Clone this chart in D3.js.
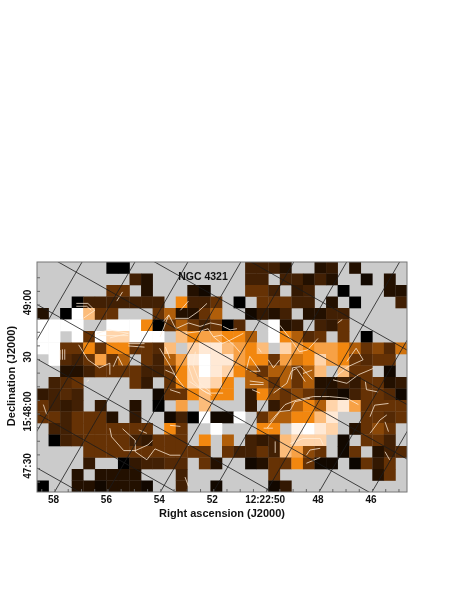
<!DOCTYPE html>
<html><head><meta charset="utf-8">
<script src="https://cdn.jsdelivr.net/npm/d3@7"></script>
<style>html,body{margin:0;background:#fff}svg{display:block;filter:blur(.6px)}text{font-family:"Liberation Sans",Arial,sans-serif;fill:#111}</style>
</head><body><svg id="c" width="458" height="592"></svg>
<script>
const _ = null;
const flux = [
[_,_,_,_,_,_,0,0,_,_,_,_,_,_,_,_,_,_,2,2,2,1,_,_,1,1.5,_,1,_,_,_,_],
[_,_,_,_,_,_,_,_,2,1,_,_,_,_,_,_,_,_,2,2,_,2,2,1,2,1,_,_,.5,_,1,_],
[_,_,_,_,_,_,3,3,_,1,_,_,_,1,.5,_,_,_,3,3,2,_,1.5,2,_,_,0,_,_,_,1,1],
[_,_,_,0,2,2,2,2,2,2,2,_,5,2,2,3,_,0,_,3,3,3,2,2,_,1,_,0,_,_,_,2],
[1,_,0,10,7,3,3,_,_,_,3,4,1,1,3,4,_,_,.5,1.5,1,2,_,1,1,2,2,_,_,_,_,_],
[10,10,10,10,_,_,10,10,10,5,0,3,4,3,2,3,0,2.5,_,_,10,1,1.5,_,2,1.5,3,_,_,_,_,_],
[10,10,_,10,3,10,8,8,10,10,10,_,7,5,6,6,5,5,4,_,10,5,4,2.5,3,_,3,_,0,_,_,_],
[10,10,3,3,5,3,5,5,3,3,2.5,7,_,8,9,9,7,6,5,7,_,8,6,5,6,6,5,4,3,3.5,2.5,4.5],
[_,10,2.5,2,3,6,3,4,_,3,2,4,6,9,10,9,9,6,5,5,3,6,4.5,5,8,6,5,3,2.5,3,3,_],
[_,_,1,1,2,3,3,3,3,2,2,3,5,8,10,9,8,5,4,3,4,4,3,4,7,_,7,3,3,_,.5,_],
[_,2,2.5,3,_,_,_,_,3,1.5,_,3,5,8,9,8,5,_,4,4,3,4,3,4,1,1,2,1.5,3,3,1,1.5],
[1.5,2,2.5,2,_,_,_,_,_,_,.5,3,3,5,7,5,5,_,1.5,5,3.5,3,3.5,3,1.5,1,.5,2,3,3,2.5,.5],
[3,2,1.5,2,_,1.5,_,_,1,_,0,_,6,_,7,_,_,_,1.5,_,1.5,3,4,5,4,8,9,6,3,3,3,3],
[3,3,2,3,3,3,1,_,1.5,_,_,.5,2,0,10,.5,.5,10,_,3,4,4,5,5,7,9,_,_,3,3,2.5,3],
[_,2,2,3,3,3,3,3,3,3,_,5,3,_,_,10,_,_,_,5,5,_,9.5,10,9,8,_,1,3,3.5,3,_],
[_,0,2,2.5,3,3,3,3,2,1.5,3,3,3,_,5,_,4,_,2,1.5,2,7,8,8,8,_,.5,_,3,3,2,_],
[_,_,_,_,3,3,3,3,3,3,3,3,3,3,3,_,3,2,2,3,2,7,6,3.5,3,_,.5,3,_,1,2,2.5],
[_,_,_,_,1.5,_,_,0,1.5,2,2,2.5,2.5,_,3,1,_,_,.5,1,3,3,5,3,.5,.5,_,.3,3,1.5,3,_],
[_,_,_,1,_,1,1,1,1,_,_,_,2,_,_,_,_,_,_,_,3,_,_,_,_,_,_,_,_,1,3,_],
[0,_,_,1,1,.5,1,1,1,.5,_,_,2,_,_,.5,_,_,_,_,.5,1.5,_,_,_,_,_,_,_,_,_,_]
];
const raTicks = [62,60,58,56,54,52,50,48,46];
const raLabels = {58:"58",56:"56",54:"54",52:"52",50:"12:22:50",48:"48",46:"46"};
const decTicks = [50.5,50,49.5,49,48.5,48,47.5];
const decLabels = {49:"49:00",48.5:"30",48:"15:48:00",47.5:"47:30"};
const raMinor = d3.range(45,59,0.5);
const decMinor = d3.range(47.375,49.3,0.125);
const contours = [
[[3.4,3.6],[4.4,3.6],[5,4.2],[4,4.9]],
[[3.4,3.85],[4.3,3.85],[4.7,4.2]],
[[6.9,3.4],[7.4,2.6]],
[[2,7.65],[2,8.5]],[[2.2,7.6],[2.2,8.5]],[[2.4,7.6],[2.4,8.5]],
[[7.9,7.1],[9.3,7.1]],[[7.9,7.3],[9.3,7.4]],
[[3.6,7.2],[4.4,8.5],[5.4,9.2],[6.3,8.8],[6.3,9.8]],
[[7,8.2],[6.6,9.1]],[[7,8.2],[7.4,9]],
[[5.2,6.2],[6.2,5.9],[7.9,6.2],[6.3,6.6]],[[5.4,6.4],[7.9,6.4]],
[[10.6,7.5],[11.5,9],[12.1,10.1]],
[[12.4,4.2],[13.1,3.4]],
[[11.95,4.9],[13.1,4.9],[13.95,4.3],[14.7,3.6]],
[[10.9,5.2],[11.4,4.6],[12,5.8],[13.1,5.3],[14.1,5.6],[15,5.3],[16,5.5]],
[[10.65,6.5],[11.4,4.6]],
[[12.8,6.2],[14,6.05],[14.8,5.8],[15.25,6.5],[16,6.35],[17,7.2],[17.6,7.9]],
[[13.2,8.1],[13.1,9.1],[13.5,10.3],[14.25,11.1],[15.1,11.6]],
[[13.7,7.8],[13.5,9],[14.1,10.6],[15,11.3]],
[[11.1,7.4],[11.5,8.4]],
[[16.1,5.6],[16.7,5.9],[17.3,5.8]],
[[15.25,6.5],[16,7.1],[16.7,6.8],[17.85,6.2]],
[[18.1,9.4],[18.4,8.2],[19.3,9.5],[18.4,9.5]],
[[20,8.5],[20.45,9.2],[21,8.5]],
[[18.4,10.35],[19.6,10.5]],[[18.4,10.65],[19.6,10.65]],
[[18.6,11.1],[19.3,11.4]],
[[11.5,11.1],[12.4,11.4]],
[[11.1,9.4],[11.8,9.7],[12.8,11]],
[[19.15,7.5],[19.4,7.85]],
[[26,5.3],[26.4,5]],
[[21,5.5],[22,6.8],[22.7,7.8],[23.4,7.65],[24.3,6.65]],
[[26.8,8.65],[27.6,7.5],[28.2,8.5],[26.9,9.1],[25.8,10]],
[[22,10.2],[22.1,9.2],[22.8,9.1],[23.8,10.2]],
[[23,9.7],[23.8,9.4]],
[[6.3,14.45],[6.45,15.2],[7.5,16.4],[8.5,16.4],[9.6,15.9],[10,15.5]],
[[7.4,14.5],[8.5,15.5],[8.5,16.5],[9.5,17.2],[10.2,16.25],[11.5,16.8],[12.4,16.8]],
[[8.8,14.6],[9.5,14.9]],
[[.55,12.4],[.85,13.3]],
[[11.5,14.2],[12.4,14.3]],
[[12.8,18.7],[13.1,19.5]],
[[4.3,10.4],[4.5,10.25]],
[[13.2,10.4],[14.7,11.4],[16.1,11.4]],
[[23.9,11.7],[25.3,11.7],[26.8,11.85],[27.8,12.4]],
[[20.15,13.9],[21.45,12.4],[22.45,12],[23.9,11.7]],
[[19.9,14.45],[21,13],[21.9,12.9],[22.3,12.15],[23.6,11.85]],
[[20.45,11.4],[21.6,10.55],[22,9.5],[22.45,9.25],[23.2,10.4]],
[[25.6,10.25],[26.8,10.55],[27.8,9.8],[29.1,9.25]],
[[28.4,10.4],[28.5,11.1],[29.5,11.3]],
[[28.8,13.45],[29.2,12.45],[30.4,12.3]],
[[28.8,14.9],[29.65,13.75],[30.25,13.3]],
[[30.1,13.9],[30.4,14.75]],
[[30.1,16.5],[30.5,17.2]],
[[20.6,15.6],[20.6,16.6]],
[[19.6,14.45],[20.4,14.45]],
[[21.9,15.8],[23,15.35],[24.5,15.35],[24.75,15.9]],
[[23.3,16.8],[23.6,16.35],[24.5,16.2]],
[[23.3,17.5],[24.5,17]]
];
const frame = {l:37,r:407,t:262,b:492};
const svg = d3.select("#c");
const col = d3.scaleLinear().domain([0,32]).range([frame.l,frame.r]);
const row = d3.scaleLinear().domain([0,20]).range([frame.t,frame.b]);
const ra = d3.scaleLinear().domain([58,46]).range([54.5,372]);
const dec = d3.scaleLinear().domain([49,47.5]).range([304.5,468]);
const color = d3.scaleLinear().domain([0,1,2,3,4,5,7.5,10]).range(["#000000","#231000","#422004","#663205","#b05e0a","#f2870f","#ffc995","#ffffff"]);
const raSlope = 0.58, decSlope = 0.565;
svg.append("clipPath").attr("id","fr").append("rect")
  .attr("x",frame.l).attr("y",frame.t).attr("width",frame.r-frame.l).attr("height",frame.b-frame.t);
const g = svg.append("g").attr("clip-path","url(#fr)");
g.append("rect").attr("x",frame.l).attr("y",frame.t).attr("width",frame.r-frame.l).attr("height",frame.b-frame.t).attr("fill","#cbcbcb");
flux.forEach((vals,r)=>{
  g.append("g").selectAll("rect").data(vals.map((v,c)=>({v,c})).filter(d=>d.v!==null)).join("rect")
    .attr("x",d=>col(d.c)).attr("y",row(r)).attr("width",col(1)-col(0)+.3).attr("height",row(1)-row(0)+.3)
    .attr("fill",d=>color(d.v));
});
const line = d3.line().x(d=>col(d[0])).y(d=>row(d[1]));
g.append("g").selectAll("path").data(contours).join("path").attr("d",line)
  .attr("fill","none").attr("stroke","#ffeeda").attr("stroke-opacity",.9).attr("stroke-width",.85).attr("stroke-linejoin","round");
g.append("g").selectAll("line").data(raTicks).join("line")
  .attr("x1",d=>ra(d)).attr("y1",frame.b)
  .attr("x2",d=>ra(d)+raSlope*(frame.b-frame.t)).attr("y2",frame.t)
  .attr("stroke","#1c1c1c").attr("stroke-width",.8);
g.append("g").selectAll("line").data(decTicks).join("line")
  .attr("x1",frame.l).attr("y1",d=>dec(d))
  .attr("x2",frame.r).attr("y2",d=>dec(d)+decSlope*(frame.r-frame.l))
  .attr("stroke","#1c1c1c").attr("stroke-width",.8);
svg.append("rect").attr("x",frame.l).attr("y",frame.t).attr("width",frame.r-frame.l).attr("height",frame.b-frame.t)
  .attr("fill","none").attr("stroke","#777").attr("stroke-width",1);
const bottom = d3.axisBottom(ra).tickValues(raMinor).tickSize(-3).tickFormat("");
svg.append("g").attr("transform",`translate(0,${frame.b})`).call(bottom).call(a=>{a.select(".domain").remove();a.selectAll("line").attr("stroke","#666");});
const left = d3.axisLeft(dec).tickValues(decMinor).tickSize(-3).tickFormat("");
svg.append("g").attr("transform",`translate(${frame.l},0)`).call(left).call(a=>{a.select(".domain").remove();a.selectAll("line").attr("stroke","#666");});
svg.append("g").selectAll("text").data(raTicks.filter(d=>raLabels[d])).join("text")
  .attr("x",d=>ra(d)-1).attr("y",503).attr("text-anchor","middle").attr("font-size",10).attr("font-weight",700).text(d=>raLabels[d]);
svg.append("g").selectAll("text").data(decTicks.filter(d=>decLabels[d])).join("text")
  .attr("transform",d=>`translate(31,${dec(d)-2}) rotate(-90)`).attr("text-anchor","middle").attr("font-size",10).attr("font-weight",700).text(d=>decLabels[d]);
svg.append("text").attr("x",222).attr("y",517).attr("text-anchor","middle").attr("font-size",11).attr("font-weight",700).text("Right ascension (J2000)");
svg.append("text").attr("transform","translate(15,376) rotate(-90)").attr("text-anchor","middle").attr("font-size",11).attr("font-weight",700).text("Declination (J2000)");
svg.append("text").attr("x",203).attr("y",280).attr("text-anchor","middle").attr("font-size",10.5).attr("font-weight",700).text("NGC 4321");
</script></body></html>
